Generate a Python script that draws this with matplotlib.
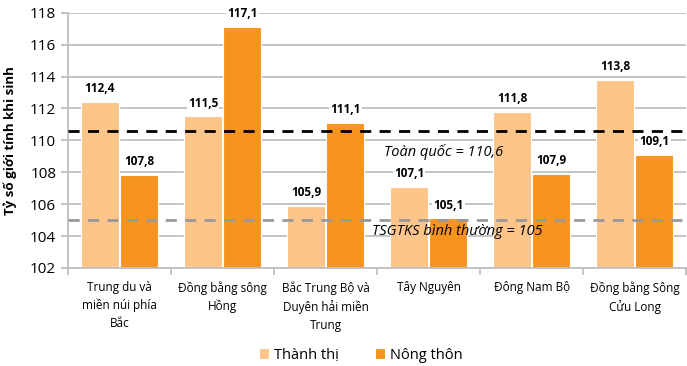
import matplotlib.pyplot as plt
import numpy as np

plt.rcParams['font.family'] = ['Open Sans', 'DejaVu Sans']

# tỷ số giới tính khi sinh theo vùng
vung = ['Trung du và\nmiền núi phía\nBắc', 'Đồng bằng sông\nHồng',
        'Bắc Trung Bộ và\nDuyên hải miền\nTrung', 'Tây Nguyên',
        'Đông Nam Bộ', 'Đồng bằng Sông\nCửu Long']
thanh_thi = [112.4, 111.5, 105.9, 107.1, 111.8, 113.8]
nong_thon = [107.8, 117.1, 111.1, 105.1, 107.9, 109.1]
toan_quoc = 110.6
binh_thuong = 105

mau_tt = '#FDC58A'
mau_nt = '#F7941F'
xam = '#BFBFBF'

fig = plt.figure(figsize=(6.87, 3.66), dpi=100)
ax = fig.add_axes([0.099, 0.268, 0.9, 0.697])

x = np.arange(len(vung))
w = 0.37
ax.bar(x - 0.19, thanh_thi, w, color=mau_tt, edgecolor='white', linewidth=0.8,
       label='Thành thị', zorder=2)
ax.bar(x + 0.19, nong_thon, w, color=mau_nt, edgecolor='white', linewidth=0.8,
       label='Nông thôn', zorder=2)

def ghi_nhan(xs, ys):
    for xi, yi in zip(xs, ys):
        ax.annotate(f'{yi:.1f}'.replace('.', ','), (xi, yi), xytext=(0, 5),
                    textcoords='offset points', ha='center', va='bottom',
                    fontsize=8.5, fontweight='bold', zorder=4,
                    bbox=dict(boxstyle='square,pad=0.1', fc='white', ec='none'))

ghi_nhan(x - 0.19, thanh_thi)
ghi_nhan(x + 0.19, nong_thon)

ax.axhline(toan_quoc, color='black', linestyle=(0, (4, 3)), linewidth=2, zorder=3)
ax.axhline(binh_thuong, color='#999999', linestyle=(0, (4, 3)), linewidth=2, zorder=3)
ax.text(2.57, 109.3, 'Toàn quốc = 110,6', fontsize=10.5, style='italic',
        ha='left', va='center', zorder=5)
ax.text(2.45, 104.3, 'TSGTKS bình thường = 105', fontsize=10.5, style='italic',
        ha='left', va='center', zorder=5)

ax.set_ylim(102, 118)
ax.set_xlim(-0.5, 5.5)
ax.set_yticks(np.arange(102, 119, 2))
ax.yaxis.grid(True, color=xam, linewidth=1.3, zorder=0)
ax.set_axisbelow(True)
ax.tick_params(axis='y', labelsize=11, color=xam, length=5, width=1.3)

ax.set_xticks(np.arange(-0.5, 6, 1))
ax.set_xticklabels([])
ax.tick_params(axis='x', color=xam, length=5, width=1.3)
for xi, ten in zip(x, vung):
    ax.text(xi, 101.2, ten, ha='center', va='top', fontsize=8.5, linespacing=1.5)

for s in ['top', 'right']:
    ax.spines[s].set_visible(False)
for s in ['left', 'bottom']:
    ax.spines[s].set_color(xam)
    ax.spines[s].set_linewidth(1.3)

ax.set_ylabel('Tỷ số giới tính khi sinh', fontsize=9.5, fontweight='bold', labelpad=9)

fig.legend(loc='center', bbox_to_anchor=(0.525, 0.03), ncol=2, frameon=False,
           fontsize=10.5, handlelength=0.7, handleheight=0.7, handletextpad=0.3,
           columnspacing=2.5)

fig.savefig('out.png', dpi=100)
